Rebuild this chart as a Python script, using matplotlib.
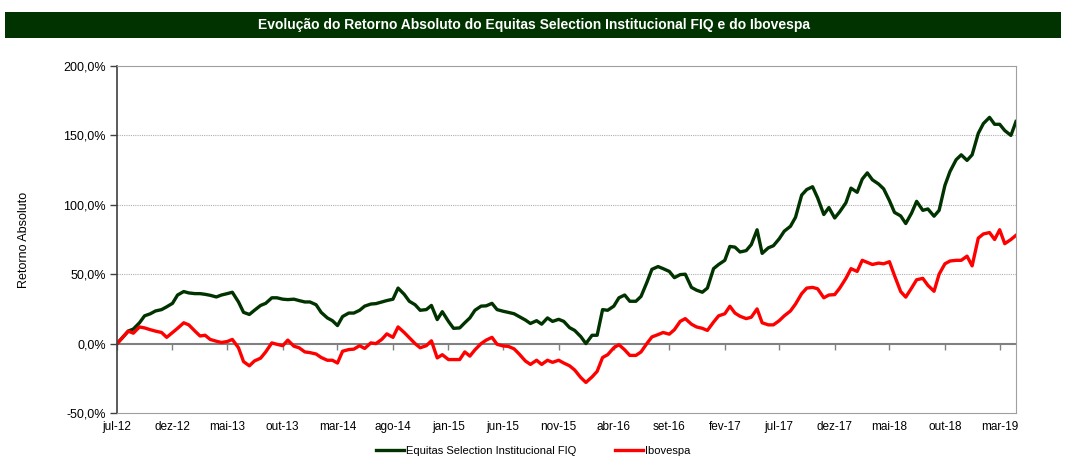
import numpy as np
import pandas as pd
import matplotlib
matplotlib.use("Agg")
import matplotlib.pyplot as plt
import matplotlib.dates as mdates
from matplotlib.patches import Rectangle
from matplotlib.ticker import FuncFormatter

plt.rcParams['font.family'] = ['Liberation Sans', 'DejaVu Sans']

# semi-monthly samples (1st and 15th of each month)
dates = pd.date_range('2012-07-01', '2019-04-15', freq='SMS')

equitas = [0, 4, 9, 10.5, 15, 20, 21.5, 23.5, 24.5, 26.5, 29, 35, 37.5, 36.5,
           36, 36, 35.5, 34.8, 33.6, 35, 36, 37, 30, 22.5, 21, 24, 27.5, 29,
           33, 33, 32, 31.7, 32, 31, 30, 30, 28, 22.5, 18.5, 16.5, 13, 19.5,
           22, 22, 24, 27, 28.5, 28.8, 30, 31, 32, 40, 35.5, 30.5, 28,
           24, 24.5, 27.5, 17.3, 23, 16, 11, 11.3, 15, 18.5, 24, 27, 27.2,
           29, 24.5, 23.3, 22.5, 21.5, 19.5, 17, 14.5, 16.5, 14, 18.5, 16, 17.5, 16,
           11.5, 9.5, 5, 0, 6, 6, 24.5, 24, 27, 33, 35, 30.5, 30.5, 34, 44,
           53.5, 55.5, 54, 52, 47.5, 49.7, 50, 40.5, 38.5, 37, 40, 54,
           57, 60, 70, 69.5, 66, 67, 71.3, 82, 65, 69, 70.5, 75.5, 81, 84.5,
           91, 107, 111, 113, 105, 93, 98, 90.5, 95, 101.5, 112, 109, 118.5,
           123, 118, 115, 111.5, 103, 94.5, 92, 86.5, 94, 102.5, 96, 97, 91.8,
           96, 114, 124, 132.5, 136, 132, 136, 151.5, 158.5, 163, 158, 158,
           153.5, 150, 160]

ibovespa = [0, 4, 9, 7.5, 12, 11.3, 10, 9, 8, 4.5, 8, 11, 15, 13.5, 9, 5.5,
            6, 3, 1.7, 0.8, 1.5, 3, -3, -13, -16, -12.5, -10.5, -6,
            0.5, -0.5, -1.5, 2.5, -1.9, -3, -6, -6.5, -7.5, -10, -12, -12, -14,
            -5.5, -4.3, -4, -1.5, -3.5, 0.5, 0, 3, 7, 4.5, 12, 8, 4.3, 0,
            -3, -1.5, 2, -10.3, -8, -11.5, -11.5, -11.5, -6, -9, -4.5, 0, 2.5,
            4.5, -0.5, -1.7, -2, -3.8, -7.5, -12.5, -15, -12, -15, -12, -13.5, -12, -14,
            -16, -19, -24.5, -28, -24, -20, -10, -8, -3, -0.8, -4.5, -8.5, -8.5,
            -6, 0, 4.8, 6.5, 8, 6.8, 10, 16, 18, 14, 12, 11, 9.5, 15.5,
            20, 21.5, 26.9, 22, 19.7, 18, 19, 25, 15, 13.5, 13.5, 16.5, 20, 23.5,
            28.5, 36, 40, 40.5, 39.5, 33, 35, 35.3, 40, 47, 54, 52, 60,
            58.5, 57, 58, 57.5, 59, 49, 37.5, 33.5, 40, 46, 47, 42, 37.7, 50,
            57.5, 59.5, 60, 60, 63, 56, 76, 79, 80, 75, 82, 72, 75, 78]

tick_dates = pd.date_range('2012-07-01', '2019-03-01', freq='5MS')
meses = ['jan', 'fev', 'mar', 'abr', 'mai', 'jun', 'jul', 'ago', 'set', 'out', 'nov', 'dez']
tick_labels = ['%s-%02d' % (meses[d.month - 1], d.year % 100) for d in tick_dates]

verde = '#003300'
vermelho = '#ff0000'

fig = plt.figure(figsize=(10.66, 4.61), dpi=100)
ax = fig.add_axes([117 / 1066, 48 / 461, 899 / 1066, 347 / 461])

# title bar
fig.patches.append(Rectangle((5 / 1066, 1 - 38 / 461), 1056 / 1066, 26 / 461,
                             transform=fig.transFigure, facecolor=verde, edgecolor='none'))
fig.text(534 / 1066, 1 - 25 / 461,
         'Evolução do Retorno Absoluto do Equitas Selection Institucional FIQ e do Ibovespa',
         color='white', fontsize=10, fontweight='bold', ha='center', va='center')

ax.plot(dates, equitas, color=verde, lw=2.4, label='Equitas Selection Institucional FIQ')
ax.plot(dates, ibovespa, color=vermelho, lw=2.4, label='Ibovespa')

ax.set_xlim(dates[0], dates[-1])
ax.set_ylim(-50, 200)
ax.set_yticks([-50, 0, 50, 100, 150, 200])
ax.yaxis.set_major_formatter(FuncFormatter(lambda v, p: ('%.1f%%' % v).replace('.', ',')))
ax.tick_params(axis='y', labelsize=9, length=5, width=1, color='#404040', pad=3)
ax.set_ylabel('Retorno Absoluto', fontsize=9, labelpad=24)

ax.set_xticks(tick_dates)
ax.set_xticklabels(tick_labels)
ax.tick_params(axis='x', labelsize=8.5, length=0, pad=6)

for v in [50, 100, 150]:
    ax.axhline(v, color='#b0b0b0', lw=0.8, ls=(0, (1, 1)), zorder=0)

for s in ['top', 'right', 'bottom']:
    ax.spines[s].set_color('#a0a0a0')
    ax.spines[s].set_linewidth(0.8)
ax.spines['left'].set_color('#404040')
ax.spines['left'].set_linewidth(1.2)

# category axis crossing at 0%
eixo0 = ax.secondary_xaxis(50 / 250)
eixo0.set_xticks(tick_dates)
eixo0.tick_params(axis='x', length=4, width=1, color='#808080', labelbottom=False, direction='out')
eixo0.spines['bottom'].set_color('#808080')
eixo0.spines['bottom'].set_linewidth(1.5)

fig.legend(loc='center', bbox_to_anchor=(0.5, 1 - 451 / 461), ncol=2, frameon=False,
           fontsize=8, handlelength=2.5, columnspacing=3.5, handletextpad=0.2)

fig.savefig('out.png', dpi=100)
